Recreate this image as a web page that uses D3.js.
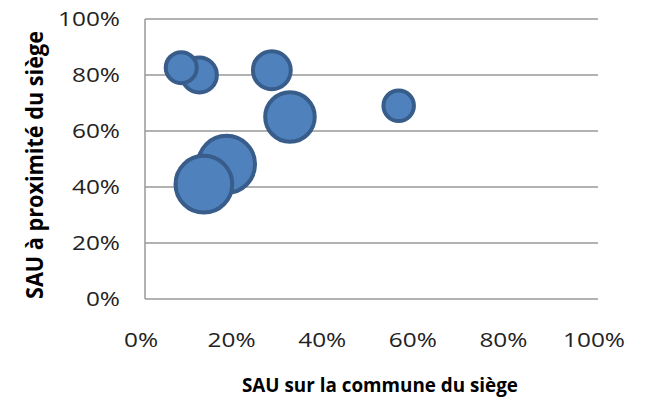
<!DOCTYPE html>
<html>
<head>
<meta charset="utf-8">
<script src="https://cdn.jsdelivr.net/npm/d3@7"></script>
<style>
  body { margin: 0; background: #fff; }
  text { font-family: "Open Sans", "DejaVu Sans", sans-serif; }
</style>
</head>
<body>
<script>
// share of UAA in the home commune (x), share near the farm (y), bubble size
var xValues = [0.28, 0.32, 0.56, 0.18, 0.13, 0.12, 0.08];
var yValues = [0.817, 0.65, 0.69, 0.481, 0.41, 0.80, 0.826];
var sizes   = [47, 77, 32, 100, 99, 41, 33];
var xTicks = [0, 0.2, 0.4, 0.6, 0.8, 1];
var yTicks = [0, 0.2, 0.4, 0.6, 0.8, 1];
var xTitle = "SAU sur la commune du siège";
var yTitle = "SAU à proximité du siège";

var width = 645, height = 403;
var margin = {top: 19, right: 47, bottom: 104, left: 145};

var svg = d3.select("body").append("svg")
  .attr("width", width)
  .attr("height", height);

var x = d3.scaleLinear().domain([0, 1]).range([margin.left, width - margin.right]);
var y = d3.scaleLinear().domain([0, 1]).range([height - margin.bottom, margin.top]);
var r = d3.scaleSqrt().domain([0, 100]).range([0, 30.5]);
var fmt = d3.format(".0%");

// the original text is a bit wider than tall, stretch it horizontally
var stretch = 1.25;

// gridlines
svg.append("g")
  .selectAll("line")
  .data(yTicks)
  .enter().append("line")
  .attr("x1", x(0)).attr("x2", x(1))
  .attr("y1", function(d) { return y(d); })
  .attr("y2", function(d) { return y(d); })
  .attr("stroke", "#999")
  .attr("stroke-width", 1.5);

// left axis line
svg.append("line")
  .attr("x1", x(0)).attr("x2", x(0))
  .attr("y1", y(0)).attr("y2", y(1))
  .attr("stroke", "#999")
  .attr("stroke-width", 1.5);

// y tick labels
svg.append("g")
  .selectAll("text")
  .data(yTicks)
  .enter().append("text")
  .attr("transform", function(d) { return "translate(120," + y(d) + ") scale(" + stretch + ",1)"; })
  .attr("dy", "0.36em")
  .attr("text-anchor", "end")
  .attr("font-size", 19.5)
  .attr("fill", "#222")
  .text(fmt);

// x tick labels
svg.append("g")
  .selectAll("text")
  .data(xTicks)
  .enter().append("text")
  .attr("transform", function(d) { return "translate(" + (x(d) - 4) + ",347) scale(" + stretch + ",1)"; })
  .attr("text-anchor", "middle")
  .attr("font-size", 19.5)
  .attr("fill", "#222")
  .text(fmt);

// axis titles
svg.append("text")
  .attr("x", 380)
  .attr("y", 392)
  .attr("text-anchor", "middle")
  .attr("font-size", 19.5)
  .attr("font-weight", "bold")
  .attr("textLength", 276)
  .attr("lengthAdjust", "spacingAndGlyphs")
  .text(xTitle);

svg.append("text")
  .attr("transform", "translate(43,165) scale(1.3,1) rotate(-90)")
  .attr("text-anchor", "middle")
  .attr("font-size", 18)
  .attr("font-weight", "bold")
  .attr("textLength", 268)
  .attr("lengthAdjust", "spacingAndGlyphs")
  .text(yTitle);

// bubbles
var sw = 4;
svg.append("g")
  .selectAll("circle")
  .data(xValues)
  .enter().append("circle")
  .attr("cx", function(d) { return x(d); })
  .attr("cy", function(d, i) { return y(yValues[i]); })
  .attr("r", function(d, i) { return r(sizes[i]) - sw / 2; })
  .attr("fill", "#4F81BD")
  .attr("stroke", "#385D8A")
  .attr("stroke-width", sw);
</script>
</body>
</html>
